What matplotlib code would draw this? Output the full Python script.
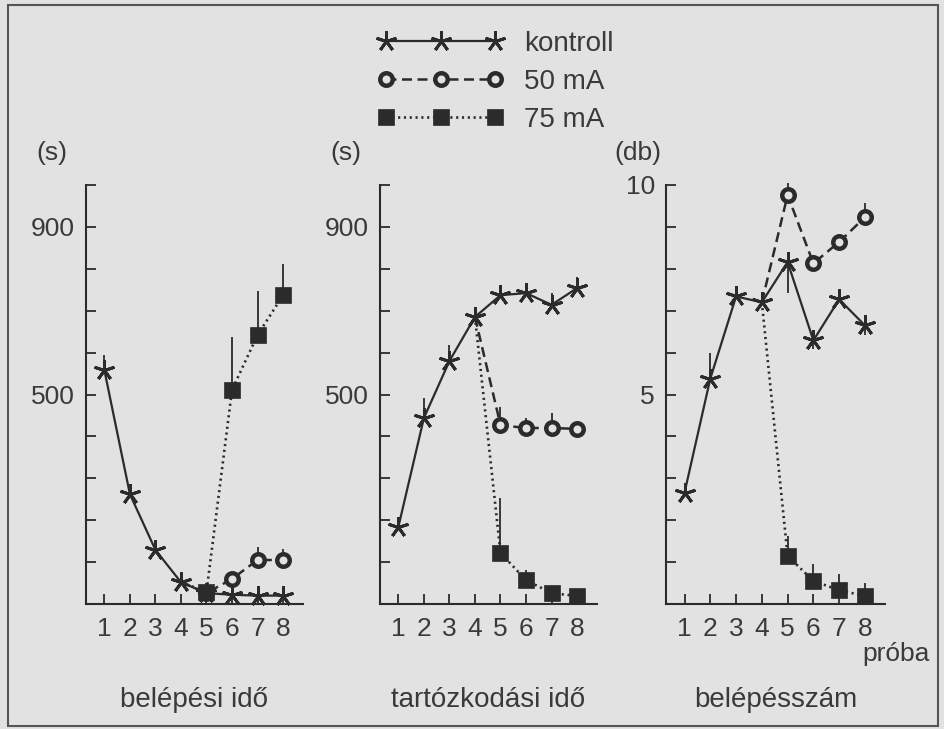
import numpy as np
import matplotlib
matplotlib.use("Agg")
import matplotlib.pyplot as plt
from matplotlib.patches import Rectangle
from matplotlib.lines import Line2D

# -- trial numbers; the treated groups start from trial 4 (common baseline)
trials = [1, 2, 3, 4, 5, 6, 7, 8]
trials_tr = [4, 5, 6, 7, 8]

# -- belépési idő (s)
entry_ctrl = [558, 262, 129, 52, 26, 22, 20, 20]
entry_ctrl_lo = [0, 0, 0, 0, 0, 0, 0, 0]
entry_ctrl_hi = [36, 25, 12, 0, 0, 0, 0, 0]
entry_50 = [52, 26, 60, 105, 105]
entry_50_lo = [0, 0, 0, 0, 0]
entry_50_hi = [0, 0, 16, 31, 26]
entry_75 = [52, 29, 511, 642, 737]
entry_75_lo = [0, 0, 0, 0, 0]
entry_75_hi = [0, 0, 126, 105, 74]

# -- tartózkodási idő (s)
stay_ctrl = [184, 444, 580, 685, 737, 742, 714, 754]
stay_ctrl_lo = [0, 0, 0, 0, 0, 0, 0, 0]
stay_ctrl_hi = [24, 48, 38, 0, 24, 10, 28, 26]
stay_50 = [685, 427, 420, 420, 418]
stay_50_lo = [0, 0, 0, 0, 0]
stay_50_hi = [0, 43, 24, 36, 0]
stay_75 = [685, 122, 57, 26, 19]
stay_75_lo = [0, 0, 0, 0, 0]
stay_75_hi = [0, 131, 24, 14, 0]

# -- belépésszám (db)
count_ctrl = [2.66, 5.38, 7.34, 7.20, 8.16, 6.29, 7.27, 6.65]
count_ctrl_lo = [0, 0, 0, 0, 0.74, 0.2, 0, 0.24]
count_ctrl_hi = [0.23, 0.6, 0, 0, 0, 0, 0.2, 0]
count_50 = [7.20, 9.76, 8.13, 8.64, 9.23]
count_50_lo = [0, 0, 0, 0, 0]
count_50_hi = [0, 0.29, 0.2, 0.2, 0.34]
count_75 = [7.20, 1.15, 0.55, 0.33, 0.19]
count_75_lo = [0, 0, 0, 0, 0]
count_75_hi = [0, 0.48, 0.41, 0.39, 0.31]

series_names = ["kontroll", "50 mA", "75 mA"]
panel_titles = ["belépési idő", "tartózkodási idő", "belépésszám"]
unit_labels = ["(s)", "(s)", "(db)"]

BG = "#e2e2e2"
INK = "#2b2b2b"
TXT = "#3a3a3a"
plt.rcParams['font.family'] = ['Liberation Sans', 'DejaVu Sans']

# line styles shared by plot and legend
st_ctrl = dict(color=INK, lw=1.6, ls='-', marker=(5, 2, 0), ms=15, mew=2.1, mec=INK)
st_50 = dict(color=INK, lw=1.8, dashes=(4, 2.2), marker='o', ms=9, mew=3.2, mfc=BG, mec=INK)
st_75 = dict(color=INK, lw=1.9, dashes=(0.8, 1.4), marker='s', ms=11, mew=0.5, mfc=INK, mec=INK)

W, H = 944, 729
fig = plt.figure(figsize=(W / 100, H / 100), dpi=100, facecolor=BG)


def px_axes(left, top, right, bottom):
    return fig.add_axes([left / W, 1 - bottom / H, (right - left) / W, (bottom - top) / H])


def draw_panel(ax, ctrl, s50, s75, ymax, step, shown):
    c_lo, c_hi, ctrl = ctrl[1], ctrl[2], ctrl[0]
    f_lo, f_hi, s50 = s50[1], s50[2], s50[0]
    t_lo, t_hi, s75 = s75[1], s75[2], s75[0]

    kw_err = dict(fmt='none', ecolor=INK, elinewidth=1.3, capsize=0, zorder=2, clip_on=False)
    ax.errorbar(trials, ctrl, yerr=[c_lo, c_hi], **kw_err)
    ax.errorbar(trials_tr, s50, yerr=[f_lo, f_hi], **kw_err)
    ax.errorbar(trials_tr, s75, yerr=[t_lo, t_hi], **kw_err)

    # treated groups branch off the control point at trial 4 (no own marker there)
    ax.plot(trials, ctrl, zorder=4, clip_on=False, **st_ctrl)
    ax.plot(trials_tr, s50, markevery=slice(1, None), zorder=5, clip_on=False, **st_50)
    ax.plot(trials_tr, s75, markevery=slice(1, None), zorder=6, clip_on=False, **st_75)

    ax.set_xlim(0.28, 8.78)
    ax.set_ylim(0, ymax)
    ax.set_facecolor('none')
    for s in ['top', 'right']:
        ax.spines[s].set_visible(False)
    for s in ['left', 'bottom']:
        ax.spines[s].set_color(INK)
        ax.spines[s].set_linewidth(1.5)

    yt = np.arange(0, ymax + step / 2, step)
    ylab = [(f"{v:g}" if v in shown else "") for v in yt]
    ax.set_yticks(yt, labels=ylab)
    ax.set_xticks(trials, labels=[str(t) for t in trials])
    ax.tick_params(axis='both', direction='in', length=7, width=1.3, color=INK,
                   labelcolor=TXT, labelsize=19)
    ax.tick_params(axis='x', pad=9)
    ax.tick_params(axis='y', pad=8)


ax1 = px_axes(86, 185, 303, 604)
ax2 = px_axes(380, 185, 597, 604)
ax3 = px_axes(666, 185, 885, 604)

draw_panel(ax1, (entry_ctrl, entry_ctrl_lo, entry_ctrl_hi),
           (entry_50, entry_50_lo, entry_50_hi),
           (entry_75, entry_75_lo, entry_75_hi), 1000, 100, [500, 900])
draw_panel(ax2, (stay_ctrl, stay_ctrl_lo, stay_ctrl_hi),
           (stay_50, stay_50_lo, stay_50_hi),
           (stay_75, stay_75_lo, stay_75_hi), 1000, 100, [500, 900])
draw_panel(ax3, (count_ctrl, count_ctrl_lo, count_ctrl_hi),
           (count_50, count_50_lo, count_50_hi),
           (count_75, count_75_lo, count_75_hi), 10, 1, [5, 10])

# unit labels above axes and panel titles below
for ax, unit, title, ux in zip([ax1, ax2, ax3], unit_labels, panel_titles, [52, 346, 638]):
    fig.text(ux / W, 1 - 153 / H, unit, ha='center', va='center', fontsize=19, color=TXT)
    ax.text(0.5, -0.229, title, transform=ax.transAxes, ha='center', va='center',
            fontsize=20, color=TXT)

ax3.text(1.205, -0.119, "próba", transform=ax3.transAxes, ha='right', va='center',
         fontsize=19, color=TXT)

handles = [Line2D([], [], **st_ctrl), Line2D([], [], **st_50), Line2D([], [], **st_75)]
leg = fig.legend(handles, series_names, loc='upper left',
                 bbox_to_anchor=(378 / W, 1 - 31 / H), frameon=False, numpoints=3,
                 handlelength=4.5, handletextpad=0.75, labelspacing=0.43,
                 borderpad=0, borderaxespad=0, fontsize=20)
for t in leg.get_texts():
    t.set_color(TXT)

# scanned-page frame
fig.patches.append(Rectangle((8 / W, 1 - 726 / H), 930 / W, 721 / H, transform=fig.transFigure,
                             fill=False, edgecolor="#555555", lw=1.5))

fig.savefig("out.png", dpi=100, facecolor=BG)
